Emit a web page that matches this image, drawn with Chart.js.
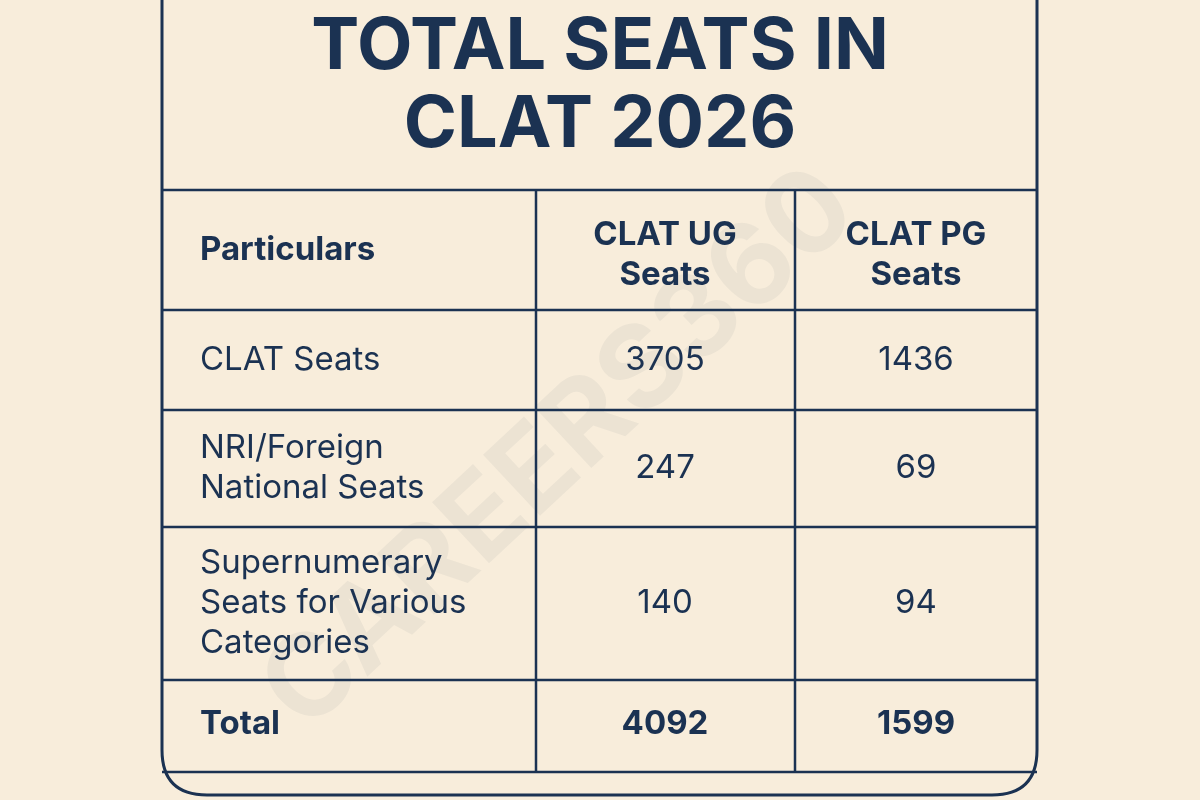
<!DOCTYPE html>
<html><head><meta charset="utf-8">
<script src="https://cdn.jsdelivr.net/npm/chart.js@4/dist/chart.umd.min.js"></script>
<style>html,body{margin:0;padding:0;background:#f8eddb;}#wrap{width:1200px;height:800px;}</style>
</head><body><div id="wrap"><canvas id="c" width="1200" height="800"></canvas></div>
<script>
const titleLines = ["TOTAL SEATS IN", "CLAT 2026"];
const headers = ["Particulars", "CLAT UG\nSeats", "CLAT PG\nSeats"];
const categories = ["CLAT Seats", "NRI/Foreign\nNational Seats", "Supernumerary\nSeats for Various\nCategories", "Total"];
const ugSeats = [3705, 247, 140, 4092];
const pgSeats = [1436, 69, 94, 1599];

const NAVY = "#1b3252";
const FONT = "Inter, 'Noto Sans', sans-serif";

const tablePlugin = {
  id: "tablePlugin",
  afterDraw(chart) {
    const ctx = chart.ctx;
    ctx.save();
    const L = 162, R = 1037, B = 795, r = 45;
    ctx.strokeStyle = NAVY; ctx.lineWidth = 3;
    ctx.beginPath();
    ctx.moveTo(L, -5); ctx.lineTo(L, B - r);
    ctx.quadraticCurveTo(L, B, L + r, B);
    ctx.lineTo(R - r, B); ctx.quadraticCurveTo(R, B, R, B - r);
    ctx.lineTo(R, -5); ctx.stroke();
    // watermark
    ctx.save();
    ctx.translate(560, 450); ctx.rotate(-0.75);
    ctx.fillStyle = "rgba(27,50,82,0.05)";
    ctx.font = "bold 115px " + FONT; ctx.textAlign = "center"; ctx.textBaseline = "middle";
    ctx.fillText("CAREERS360", 0, 0);
    ctx.restore();
    // title
    ctx.fillStyle = NAVY; ctx.textAlign = "center"; ctx.textBaseline = "middle";
    ctx.font = "bold 72px " + FONT;
    ctx.fillText(titleLines[0], 600, 47);
    ctx.fillText(titleLines[1], 600, 125);
    const rowsY = [190, 310, 410, 527, 680, 772];
    ctx.lineWidth = 2.5;
    rowsY.forEach(y => { ctx.beginPath(); ctx.moveTo(L, y); ctx.lineTo(R, y); ctx.stroke(); });
    [536, 795].forEach(x => { ctx.beginPath(); ctx.moveTo(x, 190); ctx.lineTo(x, 772); ctx.stroke(); });
    const lh = 40;
    function cell(text, x, yc, align, bold) {
      const lines = String(text).split("\n");
      ctx.font = (bold ? "bold " : "") + "33px " + FONT;
      ctx.textAlign = align;
      const y0 = yc - (lines.length - 1) * lh / 2;
      lines.forEach((t, i) => ctx.fillText(t, x, y0 + i * lh));
    }
    const cx1 = 665, cx2 = 916;
    cell(headers[0], 200, 250, "left", true);
    cell(headers[1], cx1, 255, "center", true);
    cell(headers[2], cx2, 255, "center", true);
    for (let i = 0; i < categories.length; i++) {
      const yc = (rowsY[i + 1] + rowsY[i + 2]) / 2 + (i === 3 ? -2 : 0);
      const bold = i === categories.length - 1;
      cell(categories[i], 200, yc, "left", bold);
      cell(ugSeats[i], cx1, yc, "center", bold);
      cell(pgSeats[i], cx2, yc, "center", bold);
    }
    ctx.restore();
  }
};

new Chart(document.getElementById("c"), {
  type: "bar",
  data: { labels: categories, datasets: [
    { label: "CLAT UG Seats", data: ugSeats, backgroundColor: "rgba(0,0,0,0)" },
    { label: "CLAT PG Seats", data: pgSeats, backgroundColor: "rgba(0,0,0,0)" }
  ]},
  options: {
    responsive: false, animation: false, events: [],
    plugins: { legend: { display: false }, tooltip: { enabled: false } },
    scales: { x: { display: false }, y: { display: false } }
  },
  plugins: [tablePlugin]
});
</script></body></html>
